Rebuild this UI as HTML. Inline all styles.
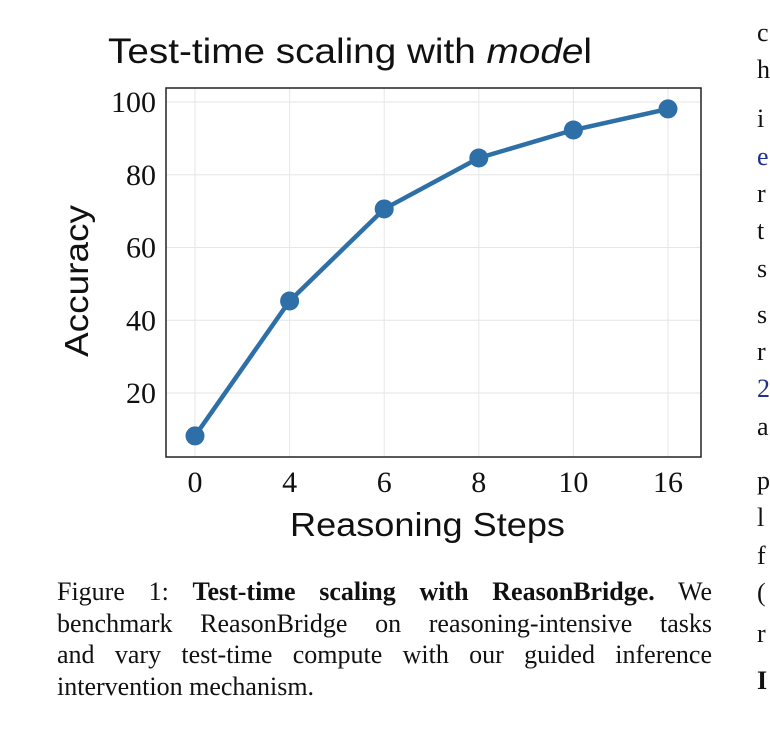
<!DOCTYPE html>
<html><head><meta charset="utf-8"><style>
body{margin:0;background:#fff;width:770px;height:748px;overflow:hidden;position:relative;font-family:"Liberation Serif",serif}
.r{position:absolute;left:757px;font-size:26px;color:#111;line-height:1}
.b{color:#1f2f8f}
#cap{position:absolute;left:57px;top:576px;width:655px;font-size:26px;line-height:31.5px;color:#111}
#cap div{text-align:justify;text-align-last:justify;white-space:nowrap}
#cap div.last{text-align-last:left}
</style></head><body>
<svg id="chart" width="770" height="560" style="position:absolute;left:0;top:0" font-family="Liberation Sans, sans-serif"></svg>
<div id="cap">
<div>Figure 1: <b>Test-time scaling with ReasonBridge.</b> We</div>
<div>benchmark ReasonBridge on reasoning-intensive tasks</div>
<div>and vary test-time compute with our guided inference</div>
<div class="last">intervention mechanism.</div>
</div>
<div>
<div class="r" style="top:20px">c</div><div class="r" style="top:57px">h</div><div class="r" style="top:106px">i</div><div class="r b" style="top:144px">e</div><div class="r" style="top:181px">r</div><div class="r" style="top:218px">t</div><div class="r" style="top:256px">s</div><div class="r" style="top:302px">s</div><div class="r" style="top:339px">r</div><div class="r b" style="top:376px">2</div><div class="r" style="top:414px">a</div><div class="r" style="top:468px">p</div><div class="r" style="top:505px">l</div><div class="r" style="top:543px">f</div><div class="r" style="top:580px">(</div><div class="r" style="top:621px">r</div><div class="r" style="top:668px;font-weight:bold">I</div>
</div>
<script>
const categories=["0","4","6","8","10","16"];
const accuracy=[8.2,45.3,70.6,84.6,92.3,98.1];
const yTicks=[20,40,60,80,100];
const svg=document.getElementById('chart');
const NS='http://www.w3.org/2000/svg';
const L=166,R=701,T=88,B=457;
function x(i){return 195+i*(668-195)/(categories.length-1);}
function y(v){return 102+(100-v)*(393-102)/80;}
function el(t,a,txt){const e=document.createElementNS(NS,t);for(const k in a)e.setAttribute(k,a[k]);if(txt!==undefined)e.textContent=txt;svg.appendChild(e);return e;}
categories.forEach((c,i)=>{
const g=el('line',{x1:x(i),x2:x(i),y1:T,y2:B,stroke:'#e6e6e6','stroke-width':1});


const t=el('text',{x:x(i),y:492,'text-anchor':'middle','font-size':30,'font-family':'Liberation Serif, serif',fill:'#111'},c);


});
yTicks.forEach(v=>{
const g=el('line',{x1:L,x2:R,y1:y(v),y2:y(v),stroke:'#e6e6e6','stroke-width':1});


const t=el('text',{x:156,y:y(v)+10,'text-anchor':'end','font-size':30,'font-family':'Liberation Serif, serif',fill:'#111'},String(v));


});
const fr=el('rect',{x:L,y:T,width:R-L,height:B-T,fill:'none',stroke:'#222','stroke-width':1.5});


const ln=el('polyline',{points:accuracy.map((v,i)=>x(i)+','+y(v)).join(' '),fill:'none',stroke:'#2e6fa8','stroke-width':4.5,'stroke-linejoin':'round'});


accuracy.forEach((v,i)=>{
const p=el('circle',{cx:x(i),cy:y(v),r:9.5,fill:'#2e6fa8'});


});
const tt=el('text',{x:108,y:63,'font-size':35,fill:'#111',textLength:484,lengthAdjust:'spacingAndGlyphs'});
tt.innerHTML='Test-time scaling with <tspan font-style="italic">mode</tspan>l';


const xt=el('text',{x:290,y:536,'font-size':33,fill:'#111',textLength:275,lengthAdjust:'spacingAndGlyphs'},'Reasoning Steps');


const yt=el('text',{x:-152,y:0,'font-size':33,fill:'#111',textLength:152,lengthAdjust:'spacingAndGlyphs',transform:'translate(88,357) rotate(-90)'},'Accuracy');
yt.setAttribute('x','0');


</script>
</body></html>
